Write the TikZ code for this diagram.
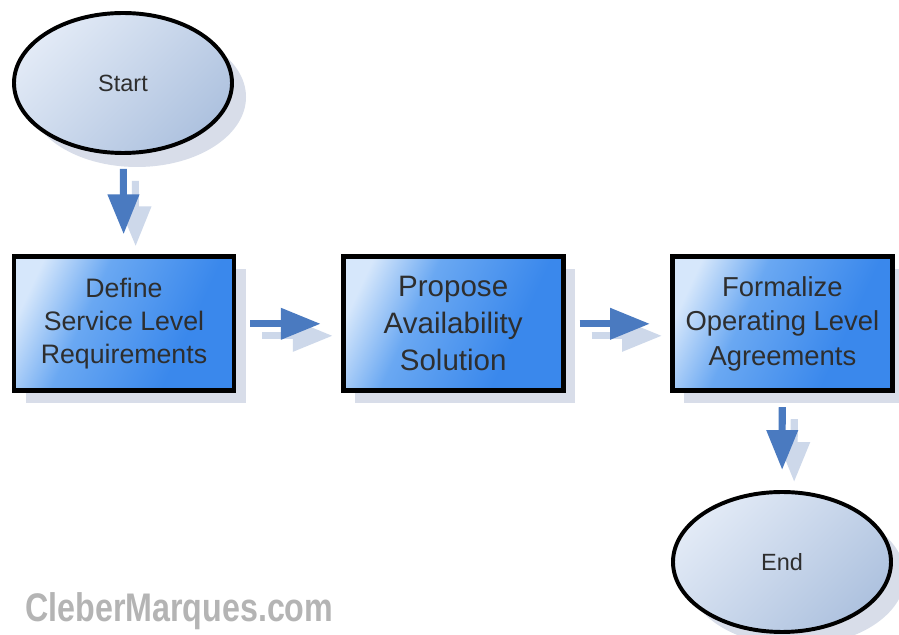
\documentclass[tikz,border=0pt]{standalone}
\usepackage{fontspec}
\setmainfont{Liberation Sans}
\usetikzlibrary{arrows.meta,shapes.geometric,shadows}
\definecolor{flowblue}{HTML}{4A7AC0}
\definecolor{flowghost}{HTML}{CDD8EA}
\definecolor{boxshade}{HTML}{D8DDE9}
\definecolor{textgray}{HTML}{2E2E2E}
\definecolor{markgray}{HTML}{B4B4B4}
\definecolor{boxlight}{HTML}{D6E7FB}
\definecolor{boxmid}{HTML}{6AA8F2}
\definecolor{boxdark}{HTML}{3A88EC}
\pgfdeclarehorizontalshading{boxfade}{100bp}{color(0bp)=(boxlight); color(24bp)=(boxlight);
	color(40bp)=(boxmid); color(66bp)=(boxdark); color(100bp)=(boxdark)}
\tikzset{
	procbox/.style={rectangle, draw=black, line width=3.4pt, minimum width=5.5cm, minimum height=3.35cm,
		inner sep=0pt, align=center, text=textgray,
		shading=boxfade, shading angle=-25,
		drop shadow={shadow xshift=0.3cm, shadow yshift=-0.3cm, fill=boxshade, opacity=1}},
	terminal/.style={ellipse, draw=black, line width=2.8pt, minimum width=5.45cm, minimum height=3.5cm,
		inner sep=0pt, text=textgray, font=\fontsize{16.7}{20}\selectfont,
		top color={rgb,255:red,226;green,234;blue,246}, bottom color={rgb,255:red,174;green,194;blue,223}, shading angle=45,
		drop shadow={shadow xshift=0.35cm, shadow yshift=-0.35cm, fill=boxshade, opacity=1}},
	flow/.style={draw=flowblue, line width=5pt, -{Triangle[length=1cm,width=0.75cm]},
		shorten <=0.35cm, shorten >=0.5cm},
	flowshadow/.style={flow, draw=flowghost}
}

\begin{document}
\begin{tikzpicture}
		%%%%% START %%%%%
		
		\useasboundingbox[fill=white] (0, 0) rectangle (22.475, 15.875);
		
		\node[terminal] (start) at (3.075, 13.8) {Start};
		\node[terminal] (finish) at (19.55, 1.825) {End};
		
		\node[procbox, font=\fontsize{19}{23.5}\selectfont] (define) at (3.1, 7.78) {Define\\Service Level\\Requirements};
		\node[procbox, font=\fontsize{21}{26.3}\selectfont] (propose) at (11.33, 7.78) {Propose\\Availability\\Solution};
		\node[procbox, font=\fontsize{19.5}{24.5}\selectfont] (formalize) at (19.56, 7.78) {Formalize\\Operating Level\\Agreements};
		
		% ghost copies of the arrows
		\begin{scope}[transform canvas={shift={(0.3cm, -0.3cm)}}]
			\draw[flowshadow] (start) -- (define);
			\draw[flowshadow] (define) -- (propose);
			\draw[flowshadow] (propose) -- (formalize);
			\draw[flowshadow] (formalize) -- (finish);
		\end{scope}
		
		\draw[flow] (start) -- (define);
		\draw[flow] (define) -- (propose);
		\draw[flow] (propose) -- (formalize);
		\draw[flow] (formalize) -- (finish);
		
		\node[anchor=south west, inner sep=0pt, text=markgray] (mark) at (0.625, 0.125)
			{\resizebox*{7.7cm}{0.93cm}{\bfseries CleberMarques.com}};
		
		%%%%% END %%%%%
	\end{tikzpicture}
\end{document}
